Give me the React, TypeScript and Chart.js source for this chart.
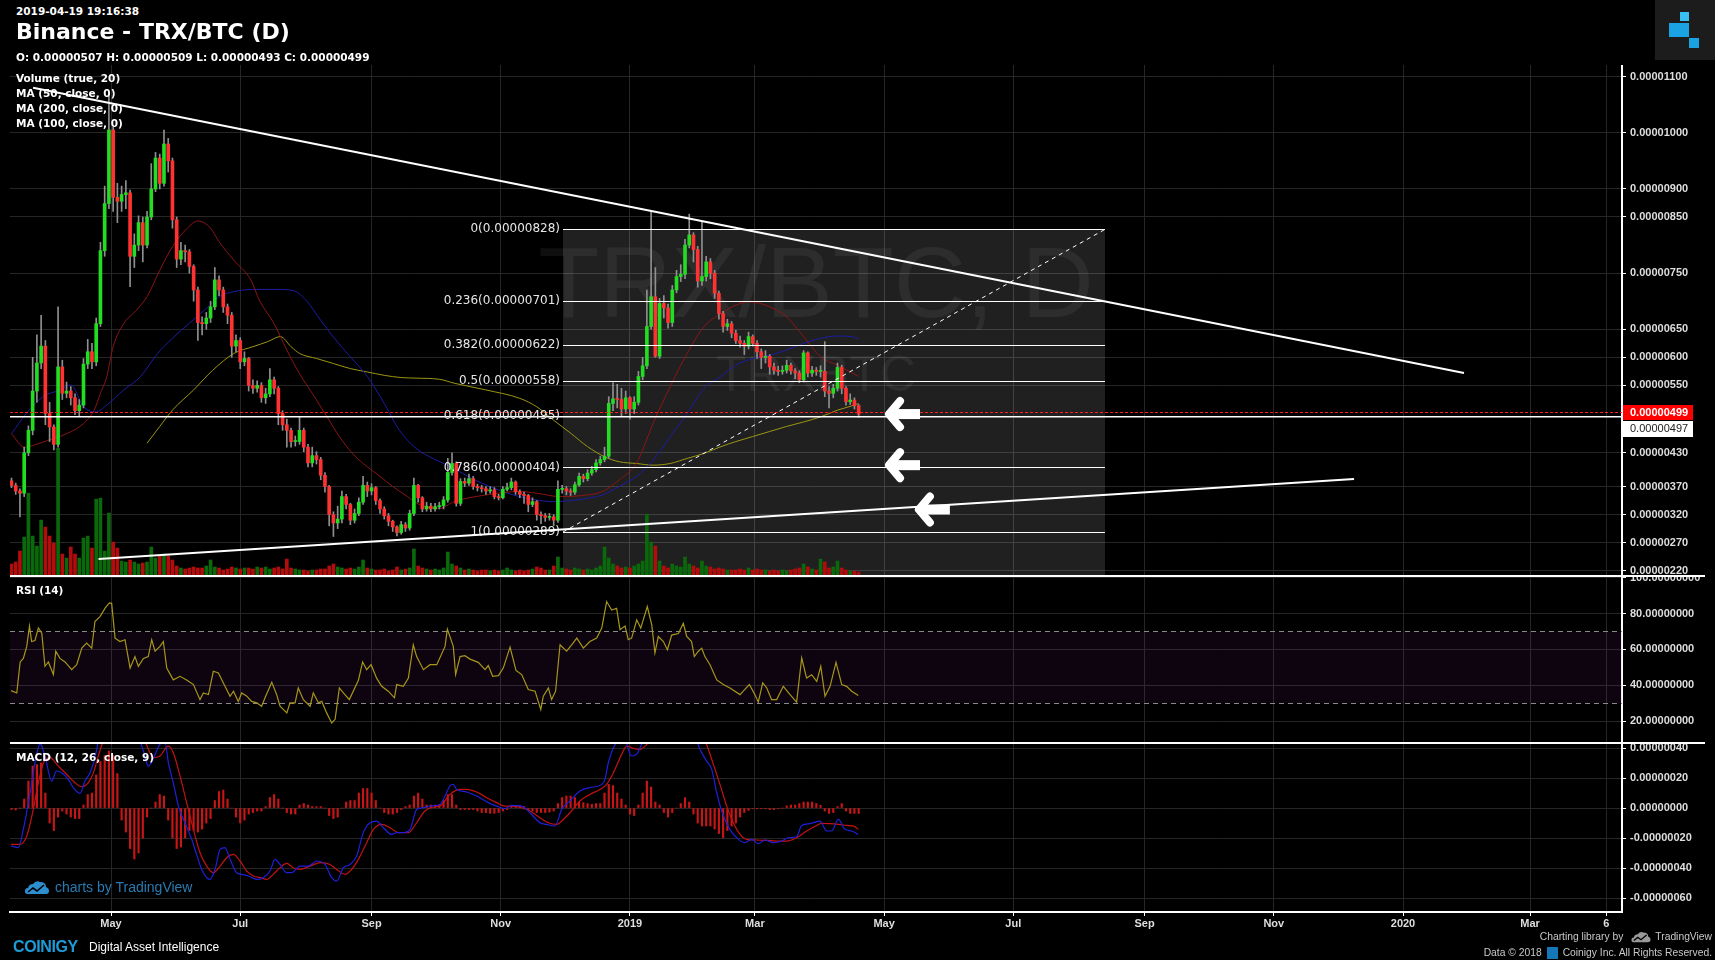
import React, { useEffect, useRef } from 'react';
import { Chart, registerables } from 'chart.js';

Chart.register(...registerables);

// ---------- time axis: days counted from 2018-05-01 ----------
const CANDLE_START_DAY = -47; // 2018-03-15
const CANDLE_STEP_DAYS = 2;
const monthTickDays = [0, 61, 123, 184, 245, 304, 365, 426, 488, 549, 610, 670, 706];
const monthTickLabels = ['May', 'Jul', 'Sep', 'Nov', '2019', 'Mar', 'May', 'Jul', 'Sep', 'Nov', '2020', 'Mar', '6'];

// ---------- prices in satoshi (1e-8 BTC) ----------
const firstOpen = 380;
const closes = [
  372, 362, 358, 430, 470, 540, 590, 620, 500, 476,
  445, 583, 536, 540, 528, 505, 515, 588, 610, 592,
  660, 790, 874, 1005, 885, 878, 890, 893, 780, 800,
  840, 800, 850, 900, 955, 910, 980, 950, 845, 775,
  790, 788, 762, 720, 662, 660, 670, 690, 738, 720,
  690, 675, 620, 630, 592, 598, 550, 545, 550, 528,
  535, 560, 545, 500, 480, 470, 450, 450, 470, 440,
  412, 425, 418, 390, 370, 320, 305, 312, 352, 338,
  310, 322, 342, 372, 362, 368, 345, 330, 318, 308,
  298, 288, 302, 296, 322, 372, 350, 330, 335, 330,
  334, 336, 346, 395, 411, 340, 379, 376, 384, 370,
  368, 366, 362, 364, 352, 350, 365, 368, 378, 361,
  356, 354, 338, 343, 320, 318, 315, 316, 310, 365,
  366, 362, 360, 373, 388, 384, 394, 400, 412, 418,
  424, 518, 526, 525, 508, 528, 508, 520, 566, 585,
  655, 708, 602, 696, 688, 662, 720, 744, 748, 800,
  818, 792, 736, 744, 770, 750, 714, 678, 655, 660,
  643, 630, 625, 620, 637, 625, 610, 600, 602, 583,
  577, 575, 577, 586, 576, 572, 560, 608, 572, 577,
  575, 575, 540, 536, 545, 582, 545, 521, 524, 514,
  499,
];
const highs = [
  385, 376, 366, 440, 478, 600, 640, 675, 630, 520,
  480, 690, 595, 556, 548, 535, 525, 598, 632, 625,
  670, 805, 905, 1070, 1010, 910, 905, 915, 898, 820,
  852, 850, 860, 945, 965, 962, 1005, 990, 955, 850,
  805, 800, 792, 765, 725, 672, 680, 700, 760, 745,
  725, 695, 680, 640, 635, 610, 600, 560, 558, 555,
  545, 580, 565, 548, 505, 490, 474, 460, 495, 474,
  445, 440, 432, 422, 395, 372, 325, 335, 362, 356,
  340, 330, 350, 388, 378, 375, 370, 348, 334, 322,
  310, 300, 308, 306, 328, 385, 374, 352, 342, 340,
  340, 342, 352, 420, 430, 414, 384, 385, 392, 388,
  374, 372, 370, 370, 368, 356, 370, 376, 385, 380,
  364, 360, 356, 350, 345, 325, 322, 322, 320, 380,
  372, 370, 366, 378, 394, 392, 400, 406, 418, 424,
  440, 530, 555, 552, 545, 540, 530, 530, 575, 600,
  720, 859, 760, 705, 710, 695, 728, 755, 765, 810,
  855, 822, 798, 842, 780, 776, 755, 718, 682, 668,
  664, 648, 638, 630, 645, 640, 630, 615, 612, 605,
  590, 584, 585, 595, 590, 580, 576, 612, 610, 584,
  582, 585, 628, 548, 552, 590, 586, 548, 535, 528,
  516,
];
const lows = [
  368, 356, 316, 352, 425, 462, 520, 580, 480, 450,
  435, 440, 525, 528, 515, 498, 495, 510, 580, 580,
  585, 655, 780, 865, 860, 840, 860, 865, 726, 760,
  790, 770, 795, 845, 895, 900, 905, 930, 830, 760,
  765, 770, 750, 700, 630, 640, 650, 662, 685, 710,
  680, 660, 600, 610, 580, 585, 540, 536, 538, 520,
  518, 530, 535, 480, 470, 440, 440, 442, 445, 432,
  405, 405, 410, 382, 360, 300, 281, 295, 305, 330,
  302, 305, 318, 338, 352, 355, 338, 322, 312, 300,
  290, 282, 285, 290, 292, 318, 342, 325, 326, 325,
  326, 330, 330, 342, 390, 335, 336, 370, 372, 365,
  362, 360, 356, 358, 348, 346, 348, 362, 364, 356,
  350, 340, 325, 334, 310, 304, 308, 310, 300, 306,
  358, 355, 354, 356, 370, 378, 380, 390, 396, 408,
  414, 420, 505, 510, 495, 500, 490, 500, 515, 560,
  580, 650, 600, 598, 670, 652, 655, 715, 735, 740,
  795, 770, 725, 728, 736, 740, 705, 668, 645, 648,
  635, 625, 618, 605, 615, 620, 598, 580, 590, 570,
  570, 568, 570, 572, 570, 562, 555, 556, 565, 566,
  568, 565, 530, 510, 528, 540, 535, 515, 516, 508,
  493,
];
// relative volume
const volumes = [
  12, 14, 25, 39, 83, 40, 30, 56, 49, 40,
  33, 128, 22, 18, 29, 22, 18, 38, 40, 28,
  77, 78, 25, 63, 34, 28, 15, 14, 16, 14,
  12, 13, 14, 29, 18, 20, 22, 20, 16, 10,
  8, 7, 8, 9, 8, 8, 10, 16, 9, 8,
  6, 7, 9, 8, 7, 8, 8, 7, 9, 8,
  9, 7, 8, 9, 7, 17, 8, 7, 6, 6,
  5, 6, 6, 7, 7, 10, 12, 9, 8, 7,
  8, 7, 9, 16, 8, 7, 6, 6, 7, 5,
  6, 9, 6, 7, 8, 27, 10, 8, 7, 6,
  7, 6, 8, 24, 12, 10, 8, 6, 7, 6,
  5, 6, 6, 5, 6, 5, 6, 8, 6, 5,
  6, 5, 6, 7, 9, 8, 6, 6, 10, 19,
  8, 7, 6, 8, 7, 6, 7, 6, 8, 10,
  29, 18, 12, 10, 8, 9, 8, 10, 12, 15,
  62, 34, 30, 15, 10, 8, 12, 10, 9, 19,
  12, 10, 8, 15, 10, 9, 7, 8, 7, 6,
  6, 6, 7, 6, 8, 6, 7, 6, 6, 5,
  6, 5, 6, 5, 6, 7, 8, 12, 9, 7,
  6, 17, 14, 8, 9, 15, 8, 6, 5, 5,
  4,
];

// ---------- moving averages ----------
const ma50Days = [-47, -41, -37, -30, -21, -13, -8, -5, -2, 1, 6, 12, 17, 23, 29, 36, 41, 47, 51, 58, 66, 70, 77, 83, 89, 96, 102, 108, 114, 121, 127, 133, 140, 146, 155, 162, 177, 193, 201, 212, 225, 232, 240, 248, 256, 264, 272, 280, 288, 295, 301, 311, 319, 327, 335, 343, 353];
const ma50Vals = [464, 440, 443, 452, 464, 482, 506, 536, 566, 619, 660, 684, 708, 755, 797, 830, 843, 830, 806, 773, 738, 702, 660, 613, 571, 530, 494, 458, 429, 405, 388, 370, 352, 337, 331, 343, 355, 361, 358, 352, 355, 361, 382, 411, 483, 548, 607, 655, 678, 693, 699, 690, 672, 637, 601, 586, 566];
const ma100Days = [-47, -40, -32, -24, -19, -13, -7, -2, 6, 14, 22, 29, 37, 45, 51, 58, 67, 78, 86, 92, 99, 105, 113, 121, 129, 136, 144, 152, 162, 170, 185, 193, 209, 225, 232, 240, 248, 256, 264, 272, 280, 288, 295, 303, 311, 319, 327, 335, 343, 350, 353];
const ma100Vals = [464, 500, 530, 542, 551, 512, 503, 515, 542, 566, 607, 634, 661, 687, 708, 717, 721, 721, 719, 702, 666, 636, 601, 566, 518, 471, 438, 420, 402, 385, 361, 352, 343, 349, 355, 370, 388, 417, 459, 500, 545, 566, 586, 598, 604, 613, 625, 634, 638, 637, 632];
const ma200Days = [17, 23, 29, 39, 48, 58, 67, 74, 80, 85, 89, 97, 105, 113, 121, 129, 137, 144, 155, 162, 177, 193, 201, 209, 217, 225, 233, 240, 248, 256, 264, 272, 280, 288, 295, 303, 311, 319, 327, 335, 343, 351, 353];
const ma200Vals = [447, 477, 506, 542, 577, 607, 619, 628, 637, 619, 607, 598, 589, 580, 574, 568, 564, 563, 561, 554, 542, 527, 512, 488, 465, 441, 423, 414, 411, 408, 411, 420, 429, 441, 450, 459, 468, 477, 485, 494, 506, 515, 518];

// ---------- RSI (14) ----------
const rsiDays = [
  -47.2, -44.5, -42.9, -41.4, -39.8, -38.5, -37.5, -35.9, -34.3, -32.7,
  -31.2, -29.6, -27.2, -26.1, -24.1, -21.7, -18.6, -16.2, -13.8, -11.5,
  -9.1, -7.6, -5.2, -2.8, -0.8, 0.3, 1.9, 4.2, 6.6, 9,
  11.3, 12.9, 15.3, 17.6, 19.2, 20.8, 23.1, 24.7, 26.3, 29.4,
  32.6, 35.7, 38.9, 42, 43.6, 46, 48.3, 50.7, 53.8, 56.2,
  57.8, 60.1, 61.7, 64.1, 66.4, 68.8, 71.1, 72.7, 75.9, 78.2,
  79.8, 83, 84.5, 86.9, 88.4, 90.8, 94, 95.5, 97.9, 99.5,
  101.8, 104.2, 105.8, 107.8, 109.7, 112.5, 116.8, 118.8, 120.7, 122.8,
  125.4, 127.8, 130.9, 133.8, 134.9, 138, 140.4, 142.7, 144.3, 147.5,
  150.6, 153.8, 157.7, 158.8, 161.6, 162.7, 164.8, 167.1, 169.5, 173.4,
  176.6, 178.1, 180.2, 182.9, 185.2, 188.4, 191.2, 193.9, 197, 200.2,
  202.9, 204.1, 206.5, 208, 209.9, 212, 215.1, 217.5, 219.9, 223,
  226.1, 229.3, 231.7, 234, 236.4, 238.7, 240.3, 242.7, 244.2, 245.8,
  248.2, 250.1, 253.2, 255.3, 256.8, 258.4, 260.8, 262.7, 264.7, 267.9,
  270.2, 271.8, 274.1, 275.4, 277.3, 278.9, 280.4, 282.8, 286, 289.1,
  292.2, 297, 298.5, 301.4, 304, 305.6, 307.7, 309.6, 311.9, 314.3,
  317.4, 320.6, 323.7, 326.1, 328.4, 330.8, 333.2, 335.1, 337.1, 339.5,
  342.3, 345, 347.3, 349.7, 352.8,
];
const rsiVals = [
  37, 35.7, 53, 55, 61.7, 73, 64.4, 65, 72, 69,
  50.6, 53, 46, 59, 55, 53, 48.7, 51.5, 60.7, 63.5,
  60.7, 75.6, 78.3, 83, 86, 85.7, 66.3, 64.4, 65.4, 49.6,
  56, 50.6, 55, 56, 65.4, 59, 61.7, 64.4, 49.6, 43,
  45, 43, 40.4, 32, 35.7, 34.8, 47.8, 46.9, 39.4, 33.9,
  36.7, 31, 35.7, 33.9, 31, 30.2, 28.3, 33, 41.7, 34.8,
  28.3, 24.6, 30.2, 30.2, 38.5, 32, 28.3, 35.7, 30.2, 31,
  24.6, 19, 21, 38.5, 35.7, 32, 42.8, 53, 48.7, 51.5,
  44, 39.4, 36.7, 33, 40.4, 39.4, 44, 62.6, 56, 48.7,
  51.5, 51.5, 61.7, 71.3, 61.7, 46, 56, 56.5, 54.6, 52.8,
  48.7, 51, 45, 45.4, 49.6, 61.3, 48.3, 46, 37.6, 36.7,
  26.5, 33.9, 38.5, 32, 36.7, 62.6, 59, 62.6, 66.3, 60.7,
  64.4, 66.3, 71.9, 86.7, 82, 83, 71, 73, 65.4, 66.3,
  76.5, 71.9, 83.9, 73.7, 58, 67.2, 64.4, 59.8, 68, 68.9,
  74.6, 67.2, 64.4, 56, 59, 60.7, 56, 51.5, 43, 40.4,
  38.5, 34.8, 36.7, 40.4, 34.8, 30.6, 41.3, 38.5, 32, 32,
  39.4, 34.8, 30.6, 55.2, 44, 45.9, 42.2, 50.6, 33.9, 39.4,
  52.8, 40.4, 39.4, 36.7, 34.3,
];
const rsiUpper = 70;
const rsiLower = 30;

// ---------- MACD (12, 26, close, 9), in 1e-8 ----------
const macdDays = [
  -47.2, -43.8, -41.4, -38.2, -35.9, -33.5, -31.2, -28, -25.7, -23.3,
  -20.1, -17.8, -14.6, -12.3, -9.9, -7.6, -5.2, -0.5, 4.2, 9,
  12.9, 15.3, 17.6, 20, 22.8, 25.5, 27.1, 29.4, 31.8, 34.9,
  38.1, 40.4, 42.8, 46.7, 49.1, 51.5, 53.8, 56.2, 59.3, 61.7,
  64.8, 68.8, 71.9, 75.1, 77.4, 79.8, 82.9, 85.3, 89.2, 93.2,
  97.1, 101, 104.2, 106.5, 109.7, 112.8, 116, 119.1, 122.3, 125.4,
  128.6, 132.5, 134.9, 138, 141.2, 144.3, 147.5, 150.6, 155.3, 157.7,
  160, 161.6, 163.2, 167.9, 172.6, 178.1, 182.1, 186, 189.2, 193.9,
  197.8, 202.5, 205.7, 209.6, 212.8, 216.7, 221.4, 226.1, 231.7, 233.2,
  234.8, 238, 241.9, 245.8, 248.2, 251.3, 260.8, 270.2, 276.5, 278.1,
  281.2, 283.6, 286, 288.3, 292.2, 296.2, 299.3, 302.5, 305.6, 308.8,
  312.7, 316.6, 319.8, 323.7, 326.1, 330, 334.7, 337.9, 340.2, 343.4,
  346.5, 349.7, 352.8,
];
const macdVals = [
  -25.3, -26.4, -14.2, 10.2, 30.2, 43, 34.7, 18, 24.7, 23.6,
  19, 13.6, 9.8, 18, 23.6, 33.6, 50, 70, 72, 60,
  48, 38, 28, 33, 42, 44, 30, 16.9, 1.3, -9.8,
  -20.9, -30.9, -40.9, -47.6, -40.9, -27.6, -26.4, -34.2, -43.1, -44.2,
  -45.3, -47.6, -46.4, -42, -34.2, -37.6, -43.1, -43.1, -38.7, -38.7,
  -35.3, -37.6, -46.4, -48.7, -39.8, -37.6, -32, -16.4, -9.8, -8.7,
  -13.1, -17.6, -16.4, -16.4, -14.2, -0.9, 0.2, 1.3, 2.4, 8,
  14.7, 15.8, 12.4, 10.7, 8, 3.6, 1.3, -0.4, 1.8, 1.3,
  -3.1, -9.8, -10.9, -12, -0.9, 4.7, 11.3, 13.6, 15.8, 19.1,
  30.2, 42.4, 48, 34.7, 36, 45, 70, 65, 45, 39,
  31.3, 25.8, 10.2, -2, -14.2, -20.9, -23.1, -20.9, -23.8, -21.3,
  -23.1, -22, -19.8, -19.1, -11.6, -10.4, -8.7, -15.3, -15.3, -7.6,
  -14.2, -15.3, -17.6,
];
const signalDays = [
  -47.2, -43, -39.8, -36.7, -34.3, -31.9, -28.8, -24.9, -20.9, -17,
  -13.8, -10.7, -8.3, -6, -3.6, 1.1, 7.4, 13.7, 16.8, 20,
  23.1, 27.1, 29.4, 32.6, 35.7, 38.9, 42, 45.2, 48.3, 51.5,
  54.6, 57.8, 60.9, 64.1, 67.2, 70.3, 73.5, 76.6, 79.8, 82.9,
  86.1, 89.2, 94, 98.7, 103.4, 106.5, 110.5, 113.6, 116.8, 120.7,
  123.9, 127.8, 131.7, 135.7, 140.4, 144.3, 148.2, 152.2, 155.3, 160,
  164.8, 167.9, 172.6, 177.4, 182.1, 186, 190, 193.9, 197.8, 202.5,
  206.5, 210.4, 213.6, 216.7, 221.4, 226.1, 230.9, 234, 237.2, 241.1,
  243.5, 246.6, 249.7, 252.9, 260.8, 270.2, 278.1, 281.2, 284.4, 287.5,
  290.7, 293.8, 297, 300.1, 304.8, 309.6, 314.3, 319, 323.7, 328.4,
  333.2, 335.5, 339.5, 343.4, 347.3, 351.2, 352.8,
];
const signalVals = [
  -24.2, -24.2, -18.7, -0.9, 16.9, 30.2, 33.6, 28, 22.4, 16.9,
  14.2, 16.9, 23.6, 34.7, 45, 58, 62, 52, 42, 33.6,
  34.7, 41.3, 36.9, 21.3, 3.6, -14.2, -29.8, -38.7, -43.1, -38.7,
  -33.1, -30.9, -35.3, -42, -45.3, -46.4, -47.6, -44.2, -39.8, -36.9,
  -39.8, -40.9, -38.7, -36.4, -37.6, -40.9, -44.2, -40.9, -34.2, -23.1,
  -14.2, -10.9, -13.1, -16.4, -16.4, -9.8, -2, 0.7, 1.3, 9.1,
  12.4, 12.4, 10.7, 6.9, 3.6, 1.3, 1.3, 0.2, -2, -6.4,
  -9.8, -10.9, -7.6, -3.1, 4.7, 9.1, 12.4, 15.8, 23.6, 35.8,
  41.3, 39.8, 39.1, 42.4, 58, 62, 52, 42.4, 29.1, 15.8,
  1.3, -9.8, -17.6, -20.9, -21.3, -21.6, -22, -22, -19.8, -15.3,
  -11.6, -10.2, -10.4, -10.9, -11.6, -12.4, -14.2,
];
// histogram, one value per candle
const macdHist = [
  -1, -1.3, 0, 6, 18, 28, 29, 30, 10, -10,
  -15, -6, -2, -4, -6, -7, -7, 2, 9, 10,
  22, 31, 35, 38, 35, 23, -8, -16, -27, -34,
  -30, -20, -6, 0, 4, 9, 8, -8, -20, -27,
  -26, -20, -15, -15, -16, -14, -10, -7, 5, 11,
  12, 6, 0, -6, -10, -8, -4, -3, -2, -2,
  1, 7, 9, 6, 0, -3, -4, -4, 2, 3,
  2, 1, 1, 1, 0, -5, -7, -6, 0, 4,
  5, 5, 10, 13, 13, 10, 5, 0, -3, -4,
  -4, -3, -1, 1, 2, 8, 10, 6, 2, 2,
  2, 2, 5, 9, 9, 2, -1, -1, -1, -1,
  -2, -3, -3, -3.5, -3.5, -3, -2, -1, 1, 1.3,
  1.3, 1, -1, -2, -3, -3, -3, -2.7, -2, 3,
  7, 8, 8, 7, 4, 3.6, 3, 2.5, 3, 3,
  10, 15.8, 15, 10, 6, 2, -4, -5, 2, 10,
  18, 14, 4, 2, -3, -6, -3, 0, 3, 6.9,
  4, -4, -10, -12, -12, -12, -14, -17, -19.8, -15,
  -12, -10, -6, -3, -1.5, -0.5, -0.5, -0.5, -0.5, -1,
  -1, -0.5, 0, 1.5, 2, 2, 3, 4, 4, 4,
  3, 1.8, -2, -3.6, -3, 1, 3, -2, -3.6, -3.6,
  -3.6,
];

// ---------- axis tick values ----------
const priceTicks = [1100, 1000, 900, 850, 750, 650, 600, 550, 430, 370, 320, 270, 220];
const rsiTicks = [100, 80, 60, 40, 20];
const macdTicks = [40, 20, 0, -20, -40, -60];

// ---------- drawings ----------
const fibRatios = [0, 0.236, 0.382, 0.5, 0.618, 0.786, 1];
const fibPrices = [828, 701, 622, 558, 495, 404, 289];
const fibStartDay = 213.4;
const fibEndDay = 469.3;
const lastPrice = 499;
const hLinePrice = 497;
const upperTrendDays = [-36.8, 638.8];
const upperTrendPrices = [1080, 572];
const lowerTrendDays = [-5.9, 586.9];
const lowerTrendPrices = [240.9, 383.3];
const arrowDays = [365.9, 365.9, 380];
const arrowPrices = [499, 408, 329];

// ---------- layout / style ----------
const W = 1715;
const PLOT_LEFT = 10;
const AXIS_W = 93;
const X_MIN = -47.7;
const X_MAX = 713.4;
const GRID = '#262626';
const LABEL = '#dedede';
const ARIAL = "'Liberation Sans', Arial, sans-serif";
const DEJAVU = "'DejaVu Sans', Verdana, sans-serif";
const AXIS_FONT: any = { family: ARIAL, size: 11, weight: 'bold' };

const sat = (v: number) => (v / 1e8).toFixed(8);

function makeX(showLabels: boolean, h: number): any {
  return {
    type: 'linear',
    min: X_MIN,
    max: X_MAX,
    offset: false,
    afterBuildTicks: (s: any) => {
      s.ticks = monthTickDays.map((v) => ({ value: v }));
    },
    afterFit: (s: any) => {
      s.height = h;
      s.paddingLeft = 0;
      s.paddingRight = 0;
    },
    grid: { color: GRID, offset: false, drawTicks: showLabels, tickLength: 4, tickColor: '#ffffff' },
    border: { display: showLabels, color: '#ffffff', width: 2 },
    ticks: {
      display: showLabels,
      autoSkip: false,
      maxRotation: 0,
      padding: 1,
      color: LABEL,
      font: AXIS_FONT,
      callback: (v: number) => {
        const i = monthTickDays.indexOf(v);
        return i >= 0 ? monthTickLabels[i] : '';
      },
    },
  };
}

function makeY(min: number, max: number, tickVals: number[], fmt: (v: number) => string): any {
  return {
    type: 'linear',
    position: 'right',
    min,
    max,
    afterBuildTicks: (s: any) => {
      s.ticks = tickVals.map((v) => ({ value: v }));
    },
    afterFit: (s: any) => {
      s.width = AXIS_W;
      s.paddingTop = 0;
      s.paddingBottom = 0;
    },
    grid: { color: GRID, tickLength: 4, tickColor: '#ffffff' },
    border: { color: '#ffffff', width: 2 },
    ticks: { autoSkip: false, padding: 4, color: LABEL, font: AXIS_FONT, callback: (v: number) => fmt(v) },
  };
}

const baseOptions: any = {
  responsive: false,
  animation: false,
  devicePixelRatio: 1,
  events: [],
  layout: { padding: { left: PLOT_LEFT, right: 0, top: 0, bottom: 0 } },
  plugins: { legend: { display: false }, tooltip: { enabled: false } },
};

function drawArrow(ctx: CanvasRenderingContext2D, tipX: number, cy: number) {
  ctx.save();
  ctx.strokeStyle = '#ffffff';
  ctx.fillStyle = '#ffffff';
  ctx.lineWidth = 8;
  ctx.lineCap = 'round';
  ctx.lineJoin = 'round';
  ctx.beginPath();
  ctx.moveTo(tipX + 14, cy - 13);
  ctx.lineTo(tipX + 3, cy);
  ctx.lineTo(tipX + 14, cy + 13);
  ctx.stroke();
  ctx.fillRect(tipX + 4, cy - 5, 30, 10);
  ctx.restore();
}

const mainDrawings: any = {
  id: 'mainDrawings',
  beforeDatasetsDraw(chart: any) {
    const { ctx, chartArea: a, scales } = chart;
    const x = scales.x;
    const y = scales.y;
    ctx.save();
    ctx.beginPath();
    ctx.rect(a.left, a.top, a.right - a.left, a.bottom - a.top);
    ctx.clip();
    const fx1 = x.getPixelForValue(fibStartDay);
    const fx2 = x.getPixelForValue(fibEndDay);
    const fy0 = y.getPixelForValue(fibPrices[0]);
    ctx.fillStyle = 'rgba(255,255,255,0.125)';
    ctx.fillRect(fx1, fy0, fx2 - fx1, a.bottom - fy0);
    ctx.fillStyle = 'rgba(255,255,255,0.06)';
    ctx.textAlign = 'center';
    ctx.textBaseline = 'middle';
    const cx = (a.left + a.right) / 2;
    ctx.font = `100px ${ARIAL}`;
    ctx.fillText('TRX/BTC, D', cx, a.top + 224);
    ctx.font = `50px ${ARIAL}`;
    ctx.fillText('TRXBTC', cx, a.top + 312);
    ctx.restore();
  },
  afterDatasetsDraw(chart: any) {
    const { ctx, chartArea: a, scales } = chart;
    const x = scales.x;
    const y = scales.y;
    const px = (d: number) => x.getPixelForValue(d);
    const py = (p: number) => y.getPixelForValue(p);
    const seg = (x1: number, y1: number, x2: number, y2: number) => {
      ctx.beginPath();
      ctx.moveTo(x1, y1);
      ctx.lineTo(x2, y2);
      ctx.stroke();
    };
    ctx.save();
    ctx.beginPath();
    ctx.rect(a.left, a.top, a.right - a.left, a.bottom - a.top);
    ctx.clip();

    // horizontal line + last price line
    ctx.strokeStyle = '#ffffff';
    ctx.lineWidth = 1.5;
    const yh = py(hLinePrice) + 1.5;
    seg(a.left, yh, a.right, yh);
    ctx.strokeStyle = '#ff1e1e';
    ctx.lineWidth = 1;
    ctx.setLineDash([3, 2]);
    const yl = Math.round(py(lastPrice)) - 1.5;
    seg(a.left, yl, a.right, yl);
    ctx.setLineDash([]);

    // fibonacci retracement
    const fx1 = px(fibStartDay);
    const fx2 = px(fibEndDay);
    ctx.strokeStyle = '#ffffff';
    ctx.lineWidth = 1;
    fibPrices.forEach((p) => {
      const yy = Math.round(py(p)) + 0.5;
      seg(fx1, yy, fx2, yy);
    });
    ctx.fillStyle = '#e6e6e6';
    ctx.font = `12px ${DEJAVU}`;
    ctx.textAlign = 'right';
    ctx.textBaseline = 'middle';
    fibRatios.forEach((r, i) => {
      ctx.fillText(`${r}(${sat(fibPrices[i])})`, fx1 - 3, py(fibPrices[i]));
    });
    ctx.setLineDash([4, 4]);
    seg(fx1, py(fibPrices[fibPrices.length - 1]), fx2, py(fibPrices[0]));
    ctx.setLineDash([]);

    // trend lines
    ctx.lineWidth = 2;
    ctx.strokeStyle = '#ffffff';
    seg(px(upperTrendDays[0]), py(upperTrendPrices[0]), px(upperTrendDays[1]), py(upperTrendPrices[1]));
    seg(px(lowerTrendDays[0]), py(lowerTrendPrices[0]), px(lowerTrendDays[1]), py(lowerTrendPrices[1]));

    // arrows
    arrowDays.forEach((d, i) => drawArrow(ctx, px(d), py(arrowPrices[i])));
    ctx.restore();

    // price labels on the axis
    ctx.save();
    const bx = a.right + 1;
    const ry = Math.round(py(lastPrice)) - 1;
    ctx.fillStyle = '#ff0000';
    ctx.fillRect(bx, ry - 8, 70, 15);
    ctx.fillStyle = '#ffffff';
    ctx.fillRect(bx, ry + 8, 70, 16);
    ctx.font = `bold 11px ${ARIAL}`;
    ctx.textAlign = 'left';
    ctx.textBaseline = 'middle';
    ctx.fillStyle = '#ffffff';
    ctx.fillText(sat(lastPrice), a.right + 8, ry);
    ctx.font = `11px ${ARIAL}`;
    ctx.fillStyle = '#222222';
    ctx.fillText(sat(hLinePrice), a.right + 8, ry + 16);
    ctx.restore();
  },
};

const rsiBand: any = {
  id: 'rsiBand',
  beforeDatasetsDraw(chart: any) {
    const { ctx, chartArea: a, scales } = chart;
    const y = scales.y;
    const y70 = Math.round(y.getPixelForValue(rsiUpper)) + 0.5;
    const y30 = Math.round(y.getPixelForValue(rsiLower)) + 0.5;
    ctx.save();
    ctx.fillStyle = 'rgba(130, 40, 150, 0.10)';
    ctx.fillRect(a.left, y70, a.right - a.left, y30 - y70);
    ctx.strokeStyle = '#8a8a8a';
    ctx.lineWidth = 1;
    ctx.setLineDash([5, 4]);
    [y70, y30].forEach((yy) => {
      ctx.beginPath();
      ctx.moveTo(a.left, yy);
      ctx.lineTo(a.right, yy);
      ctx.stroke();
    });
    ctx.restore();
  },
};

function buildMain(canvas: HTMLCanvasElement) {
  const days = closes.map((_, i) => CANDLE_START_DAY + CANDLE_STEP_DAYS * i);
  const opens = closes.map((_, i) => (i === 0 ? firstOpen : closes[i - 1]));
  const up = closes.map((c, i) => c >= opens[i]);
  const maxVol = Math.max(...volumes);
  return new Chart(canvas, {
    type: 'bar',
    data: {
      datasets: [
        {
          type: 'bar',
          data: days.map((d, i) => ({ x: d, y: [opens[i], closes[i]] })),
          backgroundColor: up.map((u) => (u ? '#22dd22' : '#ff3232')),
          barThickness: 3,
          grouped: false,
          minBarLength: 1,
          borderWidth: 0,
          order: 0,
        },
        {
          type: 'bar',
          data: days.map((d, i) => ({ x: d, y: [lows[i], highs[i]] })),
          backgroundColor: '#8f8f8f',
          barThickness: 1,
          grouped: false,
          borderWidth: 0,
          order: 1,
        },
        {
          type: 'line',
          data: ma50Days.map((d, i) => ({ x: d, y: ma50Vals[i] })),
          borderColor: '#8c1515',
          borderWidth: 1,
          pointRadius: 0,
          cubicInterpolationMode: 'monotone',
          order: 2,
        },
        {
          type: 'line',
          data: ma100Days.map((d, i) => ({ x: d, y: ma100Vals[i] })),
          borderColor: '#1c1ca6',
          borderWidth: 1,
          pointRadius: 0,
          cubicInterpolationMode: 'monotone',
          order: 3,
        },
        {
          type: 'line',
          data: ma200Days.map((d, i) => ({ x: d, y: ma200Vals[i] })),
          borderColor: '#9c9612',
          borderWidth: 1,
          pointRadius: 0,
          cubicInterpolationMode: 'monotone',
          order: 4,
        },
        {
          type: 'bar',
          yAxisID: 'yVol',
          data: days.map((d, i) => ({ x: d, y: volumes[i] })),
          backgroundColor: up.map((u) => (u ? '#0a690a' : '#b30c0c')),
          barThickness: 3,
          grouped: false,
          borderWidth: 0,
          order: 6,
        },
      ],
    } as any,
    options: {
      ...baseOptions,
      scales: {
        x: makeX(false, 0),
        y: makeY(210.6, 1120.7, priceTicks, sat),
        yVol: { display: false, min: 0, max: maxVol * 4 },
      },
    },
    plugins: [mainDrawings],
  } as any);
}

function buildRsi(canvas: HTMLCanvasElement) {
  return new Chart(canvas, {
    type: 'line',
    data: {
      datasets: [
        {
          data: rsiDays.map((d, i) => ({ x: d, y: rsiVals[i] })),
          borderColor: '#a8961a',
          borderWidth: 1.2,
          pointRadius: 0,
          tension: 0,
        },
      ],
    },
    options: {
      ...baseOptions,
      scales: {
        x: makeX(false, 0),
        y: makeY(7.8, 100.4, rsiTicks, (v) => v.toFixed(8)),
      },
    },
    plugins: [rsiBand],
  } as any);
}

function buildMacd(canvas: HTMLCanvasElement) {
  const days = closes.map((_, i) => CANDLE_START_DAY + CANDLE_STEP_DAYS * i);
  return new Chart(canvas, {
    type: 'bar',
    data: {
      datasets: [
        {
          type: 'line',
          data: macdDays.map((d, i) => ({ x: d, y: macdVals[i] })),
          borderColor: '#1f1fdc',
          borderWidth: 1.2,
          pointRadius: 0,
          cubicInterpolationMode: 'monotone',
          order: 0,
        },
        {
          type: 'line',
          data: signalDays.map((d, i) => ({ x: d, y: signalVals[i] })),
          borderColor: '#c41212',
          borderWidth: 1.2,
          pointRadius: 0,
          cubicInterpolationMode: 'monotone',
          order: 1,
        },
        {
          type: 'bar',
          data: days.map((d, i) => ({ x: d, y: macdHist[i] })),
          backgroundColor: '#c81616',
          barThickness: 1.5,
          grouped: false,
          borderWidth: 0,
          order: 2,
        },
      ],
    } as any,
    options: {
      ...baseOptions,
      scales: {
        x: makeX(true, 48),
        y: makeY(-69.3, 42.7, macdTicks, sat),
      },
    },
  } as any);
}

const abs = (left: number, top: number, extra: any = {}): any => ({
  position: 'absolute',
  left,
  top,
  whiteSpace: 'nowrap',
  ...extra,
});

export default function App() {
  const mainRef = useRef<HTMLCanvasElement>(null);
  const rsiRef = useRef<HTMLCanvasElement>(null);
  const macdRef = useRef<HTMLCanvasElement>(null);

  useEffect(() => {
    const charts = [
      buildMain(mainRef.current as HTMLCanvasElement),
      buildRsi(rsiRef.current as HTMLCanvasElement),
      buildMacd(macdRef.current as HTMLCanvasElement),
    ];
    return () => charts.forEach((c) => c.destroy());
  }, []);

  const head = { fontFamily: DEJAVU, fontWeight: 'bold', color: '#ffffff', fontSize: 10.5, lineHeight: '12px' };

  return (
    <div style={{ position: 'fixed', left: 0, top: 0, width: W, height: 960, background: '#000', overflow: 'hidden' }}>
      <canvas ref={mainRef} width={W} height={511} style={abs(0, 65, { width: W, height: 511 })} />
      <canvas ref={rsiRef} width={W} height={166} style={abs(0, 577, { width: W, height: 166 })} />
      <canvas ref={macdRef} width={W} height={216} style={abs(0, 744, { width: W, height: 216 })} />

      {/* pane separators */}
      <div style={abs(10, 575, { width: 1695, height: 2, background: '#ffffff' })} />
      <div style={abs(10, 742, { width: 1695, height: 2, background: '#ffffff' })} />

      {/* header */}
      <div style={abs(16, 5, head)}>2019-04-19 19:16:38</div>
      <div style={abs(16, 19, { ...head, fontSize: 22, lineHeight: '26px' })}>Binance - TRX/BTC (D)</div>
      <div style={abs(16, 51, head)}>O: 0.00000507 H: 0.00000509 L: 0.00000493 C: 0.00000499</div>

      {/* indicator legends */}
      <div style={abs(16, 72, head)}>Volume (true, 20)</div>
      <div style={abs(16, 87, head)}>MA (50, close, 0)</div>
      <div style={abs(16, 102, head)}>MA (200, close, 0)</div>
      <div style={abs(16, 117, head)}>MA (100, close, 0)</div>
      <div style={abs(16, 584, head)}>RSI (14)</div>
      <div style={abs(16, 751, head)}>MACD (12, 26, close, 9)</div>

      {/* charts by TradingView */}
      <svg width="24" height="15" viewBox="0 0 24 15" style={abs(25, 880)}>
        <path d="M2 14 Q0 14 0 11 Q0 8 3 8 Q4 4 8 4 Q11 0 15 2 Q21 2 21 7 Q24 8 24 11 Q24 14 21 14 Z" fill="#2b8fd0" />
        <path d="M3 12 L8 8 L12 11 L19 5" stroke="#000" strokeWidth="1.6" fill="none" />
      </svg>
      <div style={abs(55, 879, { fontFamily: ARIAL, fontSize: 14, lineHeight: '17px', color: '#2a7ab2' })}>
        charts by TradingView
      </div>

      {/* top-right logo */}
      <div style={abs(1655, 0, { width: 60, height: 60, background: '#1c1c1c' })}>
        <div style={abs(25, 12, { width: 9, height: 9, background: '#39bff0' })} />
        <div style={abs(14, 23, { width: 20, height: 14, background: '#1ba2e2' })} />
        <div style={abs(34, 38, { width: 10, height: 10, background: '#1ba2e2' })} />
      </div>

      {/* footer */}
      <div style={abs(13, 937, { fontFamily: ARIAL, fontWeight: 'bold', fontSize: 16, lineHeight: '20px', color: '#1e9bd7', letterSpacing: '-0.4px' })}>
        COINIGY
      </div>
      <div style={abs(89, 939, { fontFamily: ARIAL, fontSize: 12, lineHeight: '16px', color: '#ffffff' })}>
        Digital Asset Intelligence
      </div>
      <div
        style={{
          position: 'absolute',
          right: 3,
          top: 930,
          display: 'flex',
          alignItems: 'center',
          gap: 8,
          fontFamily: ARIAL,
          fontSize: 10.3,
          lineHeight: '14px',
          color: '#c8c8c8',
          whiteSpace: 'nowrap',
        }}
      >
        <span>Charting library by</span>
        <svg width="20" height="12" viewBox="0 0 24 15">
          <path d="M2 14 Q0 14 0 11 Q0 8 3 8 Q4 4 8 4 Q11 0 15 2 Q21 2 21 7 Q24 8 24 11 Q24 14 21 14 Z" fill="#9a9a9a" />
          <path d="M3 12 L8 8 L12 11 L19 5" stroke="#000" strokeWidth="1.6" fill="none" />
        </svg>
        <span style={{ marginLeft: -4 }}>TradingView</span>
      </div>
      <div
        style={{
          position: 'absolute',
          right: 3,
          top: 946,
          display: 'flex',
          alignItems: 'center',
          gap: 5,
          fontFamily: ARIAL,
          fontSize: 10.3,
          lineHeight: '14px',
          color: '#c8c8c8',
          whiteSpace: 'nowrap',
        }}
      >
        <span>Data © 2018</span>
        <span style={{ display: 'inline-block', width: 11, height: 12, background: '#1477b8' }} />
        <span>Coinigy Inc. All Rights Reserved.</span>
      </div>
    </div>
  );
}
